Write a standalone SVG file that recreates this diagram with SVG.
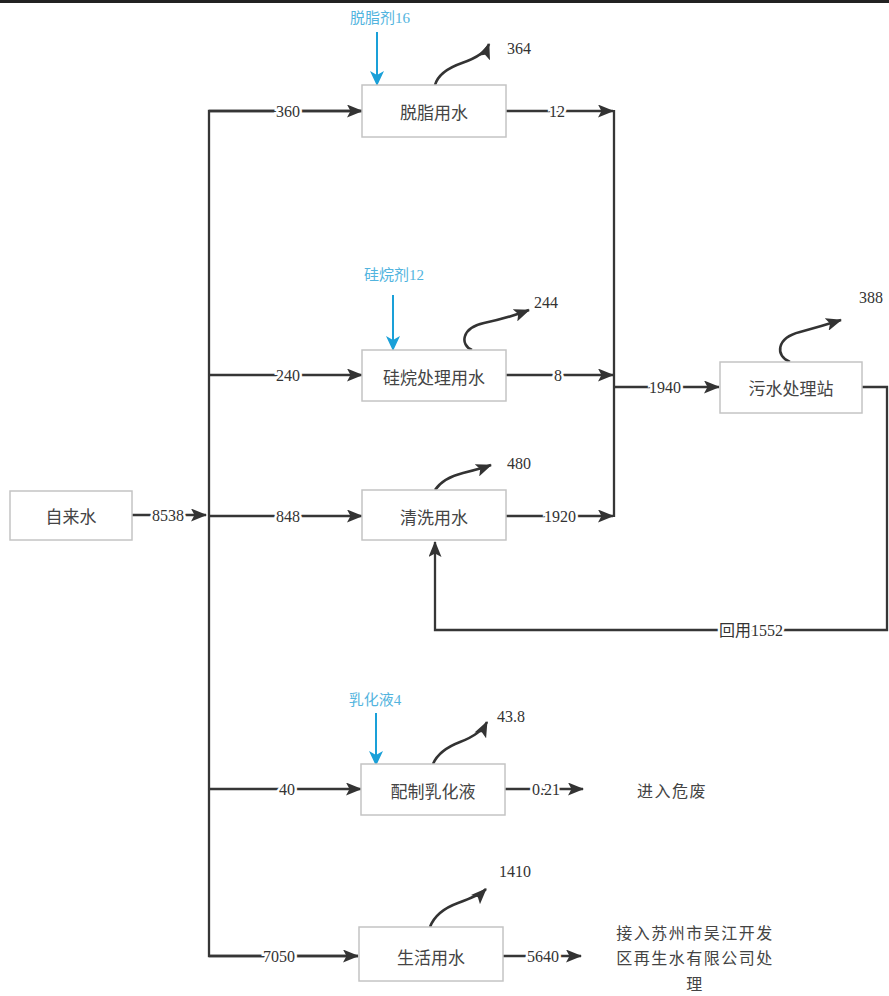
<svg xmlns="http://www.w3.org/2000/svg" width="889" height="996" viewBox="0 0 889 996">
<defs>
<marker id="ah" markerWidth="16" markerHeight="13" refX="15" refY="6.5" orient="auto" markerUnits="userSpaceOnUse"><path d="M0,0 L16,6.5 L0,13 L3.5,6.5 Z" fill="#333"/></marker>
<marker id="ahb" markerWidth="15" markerHeight="14" refX="14" refY="7" orient="auto" markerUnits="userSpaceOnUse"><path d="M0,0 L15,7 L0,14 L4,7 Z" fill="#1aa0d8"/></marker>
<style>
.box{fill:#fff;stroke:#c4c4c4;stroke-width:1.5}
.bt{font-family:"Noto Sans CJK SC",sans-serif;font-size:17px;fill:#444;text-anchor:middle;dominant-baseline:central}
.ln{fill:none;stroke:#363636;stroke-width:2.3}
.cv{fill:none;stroke:#333;stroke-width:2.6}
.bl{fill:none;stroke:#1aa0d8;stroke-width:2}
.lb{font-family:"Liberation Serif","Noto Sans CJK SC",serif;font-size:16px;fill:#333;text-anchor:middle;dominant-baseline:central;stroke:#fff;stroke-width:5;paint-order:stroke}
.nt{font-family:"Liberation Serif",serif;font-size:16px;fill:#333;text-anchor:middle;dominant-baseline:central}
.blue{font-family:"Liberation Serif","Noto Sans CJK SC",serif;font-size:15px;fill:#52b4de;text-anchor:middle;dominant-baseline:central}
.ot{font-family:"Noto Sans CJK SC",sans-serif;font-size:16px;fill:#444;text-anchor:middle;dominant-baseline:central;letter-spacing:1.5px}
</style>
</defs>
<rect width="889" height="996" fill="#fff"/>
<line x1="0" y1="1.5" x2="889" y2="1.5" stroke="#222" stroke-width="3"/>

<g id="connectors">
  <path class="ln" d="M132,515 H206" marker-end="url(#ah)"/>
  <path class="ln" d="M363,111 H209 V956 H358" />
  <path class="ln" d="M209,111 H362" marker-end="url(#ah)"/>
  <path class="ln" d="M209,375 H362" marker-end="url(#ah)"/>
  <path class="ln" d="M209,516 H362" marker-end="url(#ah)"/>
  <path class="ln" d="M209,789 H361" marker-end="url(#ah)"/>
  <path class="ln" d="M209,956 H358" marker-end="url(#ah)"/>
  <path class="ln" d="M506,111 H613" marker-end="url(#ah)"/>
  <path class="ln" d="M506,375 H613" marker-end="url(#ah)"/>
  <path class="ln" d="M506,516 H613" marker-end="url(#ah)"/>
  <path class="ln" d="M614,110 V517"/>
  <path class="ln" d="M614,387 H719" marker-end="url(#ah)"/>
  <path class="ln" d="M862,387 H887 V630 H435 V542" marker-end="url(#ah)"/>
  <path class="ln" d="M505,789 H583" marker-end="url(#ah)"/>
  <path class="ln" d="M503,956 H581" marker-end="url(#ah)"/>
  <path class="bl" d="M377,32 V85" marker-end="url(#ahb)"/>
  <path class="bl" d="M393,295 V350" marker-end="url(#ahb)"/>
  <path class="bl" d="M376,713 V765" marker-end="url(#ahb)"/>
  <path class="cv" d="M435,85 Q439,71 462,63 T489,44" marker-end="url(#ah)"/>
  <path class="cv" d="M472,350 C460,345 461,328 484,323 Q508,318 529,310" marker-end="url(#ah)"/>
  <path class="cv" d="M435,490 Q443,478 463,473 T491,465" marker-end="url(#ah)"/>
  <path class="cv" d="M790,362 C775,356 776,338 800,332 Q822,326 841,320" marker-end="url(#ah)"/>
  <path class="cv" d="M433,764 Q439,750 460,742 T487,722" marker-end="url(#ah)"/>
  <path class="cv" d="M430,927 Q436,911 458,903 T486,889" marker-end="url(#ah)"/>
  <text class="lb" x="168" y="515">8538</text>
  <text class="lb" x="288" y="111">360</text>
  <text class="lb" x="288" y="375">240</text>
  <text class="lb" x="288" y="516">848</text>
  <text class="lb" x="287" y="789">40</text>
  <text class="lb" x="279" y="956">7050</text>
  <text class="lb" x="557" y="111">12</text>
  <text class="lb" x="558" y="375">8</text>
  <text class="lb" x="560" y="516">1920</text>
  <text class="lb" x="665" y="387">1940</text>
  <text class="lb" x="751" y="630">回用1552</text>
  <text class="lb" x="546" y="789">0.21</text>
  <text class="lb" x="543" y="956">5640</text>
  <text class="nt" x="519" y="48">364</text>
  <text class="nt" x="546" y="302">244</text>
  <text class="nt" x="519" y="463">480</text>
  <text class="nt" x="871" y="297">388</text>
  <text class="nt" x="511" y="716">43.8</text>
  <text class="nt" x="515" y="871">1410</text>
  <text class="blue" x="380" y="18">脱脂剂16</text>
  <text class="blue" x="394" y="275">硅烷剂12</text>
  <text class="blue" x="375" y="700">乳化液4</text>
</g>

<g id="n-zilaishui"><rect class="box" x="10" y="491" width="122" height="49"/><text class="bt" x="71" y="515">自来水</text></g>
<g id="n-tuozhi"><rect class="box" x="362" y="85" width="144" height="52"/><text class="bt" x="434" y="111">脱脂用水</text></g>
<g id="n-guiwan"><rect class="box" x="362" y="350" width="144" height="51"/><text class="bt" x="434" y="376">硅烷处理用水</text></g>
<g id="n-qingxi"><rect class="box" x="362" y="490" width="144" height="50"/><text class="bt" x="434" y="516">清洗用水</text></g>
<g id="n-wushui"><rect class="box" x="720" y="362" width="142" height="51"/><text class="bt" x="791" y="387">污水处理站</text></g>
<g id="n-peizhi"><rect class="box" x="361" y="764" width="144" height="51"/><text class="bt" x="433" y="790">配制乳化液</text></g>
<g id="n-shenghuo"><rect class="box" x="359" y="927" width="144" height="54"/><text class="bt" x="431" y="956">生活用水</text></g>
<g id="n-weifei"><text class="ot" x="672" y="790">进入危废</text></g>
<g id="n-zaisheng"><text class="ot" x="695" y="932">接入苏州市吴江开发</text><text class="ot" x="695" y="957">区再生水有限公司处</text><text class="ot" x="695" y="983">理</text></g>
</svg>
